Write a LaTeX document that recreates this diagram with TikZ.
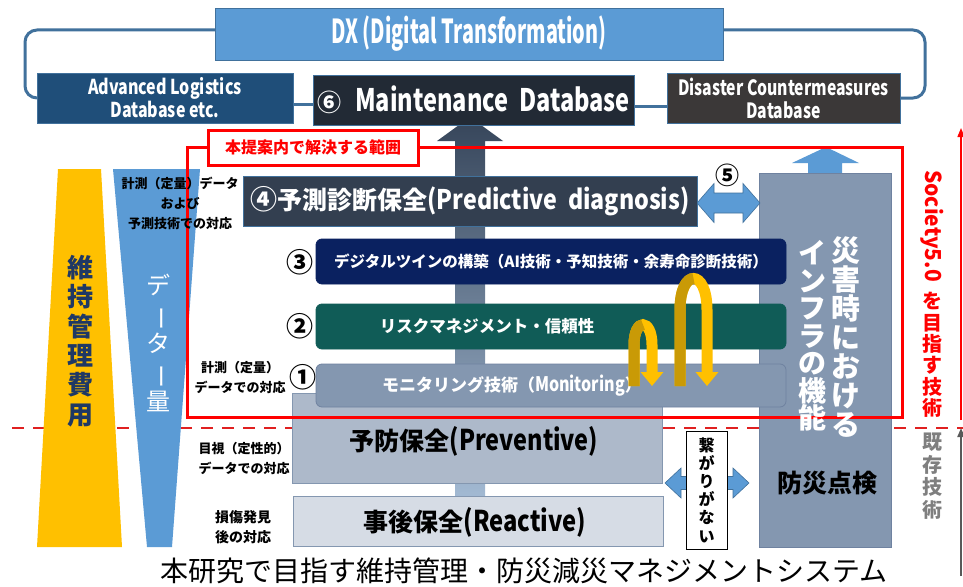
\documentclass[tikz,border=0pt]{standalone}
\usepackage{fontspec}
\usepackage{graphicx}
\setmainfont{Noto Sans CJK JP}
\usetikzlibrary{arrows.meta}
\definecolor{dxblue}{HTML}{5B9BD5}
\definecolor{edgeblue}{HTML}{41719C}
\definecolor{advblue}{HTML}{1F4E79}
\definecolor{mdark}{HTML}{222A35}
\definecolor{disgray}{HTML}{3B3838}
\definecolor{pdark}{HTML}{333F50}
\definecolor{navyb}{HTML}{0A2160}
\definecolor{tealb}{HTML}{105C57}
\definecolor{slate}{HTML}{8497B0}
\definecolor{slateedge}{HTML}{6F82A0}
\definecolor{prevc}{HTML}{ADB9CA}
\definecolor{reac}{HTML}{D6DCE5}
\definecolor{gold}{HTML}{FFC000}
\definecolor{golddark}{HTML}{C99A06}
\definecolor{textnavy}{HTML}{1F3864}
\definecolor{redc}{HTML}{FF0000}
\definecolor{dashc}{HTML}{E02020}
\definecolor{graytxt}{HTML}{7F7F7F}
\definecolor{grayarr}{HTML}{595959}
\definecolor{arrtop}{HTML}{36455A}
\definecolor{arrbot}{HTML}{B0C8E2}
\newcommand\fsz[2]{\fontsize{#1pt}{#2pt}\selectfont}
\newcommand\sx[2]{\scalebox{#1}[1]{#2}}
\newcommand\vbar{\rotatebox[origin=c]{-90}{ー}}
\begin{document}
\begin{tikzpicture}[x=1pt,y=-1pt,
  every node/.style={inner sep=0pt, outer sep=0pt},
  rbox/.style={draw=edgeblue, line width=0.8pt, anchor=north west, align=center},
  lbl/.style={font=\bfseries\fsz{13}{20}, align=center, text=black},
  loopln/.style={draw=edgeblue, line width=3pt},
  cnum/.style={font=\bfseries\fsz{27}{27}, text=black},
  yarc/.style={draw=gold, line width=11pt, -{Triangle[width=22pt,length=14pt]}},
  yarcd/.style={draw=golddark, line width=11pt},
  dblarrow/.style={fill=dxblue, draw=edgeblue, line width=0.6pt}
]
\useasboundingbox[fill=white] (0,0) rectangle (963,586);

% red dashed boundary
\coordinate (dashL) at (12,428);
\coordinate (dashR) at (963,428);
\draw[dashc, line width=2pt, dash pattern=on 12pt off 9pt] (dashL) -- (dashR);

% left trapezoids
\fill[gold] (58,169) -- (101,169) -- (122,547) -- (37,547) -- cycle;
\fill[dxblue] (113,169) -- (200,169) -- (172,547) -- (147,547) -- cycle;
\node[align=center, font=\bfseries\fsz{26}{29.4}, text=textnavy] (cost) at (80,341) {維\\持\\管\\理\\費\\用};
\node[align=center, font=\fsz{24}{29}, text=white] (dqty) at (158,343) {デ\\\vbar\\タ\\\vbar\\量};

% central gradient arrow
\shade[top color=arrtop, bottom color=arrbot]
  (455,546) -- (455,141) -- (437,141) -- (470,117) -- (503,141) -- (485,141) -- (485,546) -- cycle;

% DX and databases
\node[rbox, fill=dxblue, minimum width=508pt, minimum height=52pt, font=\bfseries\fsz{33}{33}, text=white] (dx) at (215,8)
  {\sx{0.6}{DX (Digital Transformation)}};
\node[rbox, fill=advblue, minimum width=256pt, minimum height=50pt, font=\bfseries\fsz{20.5}{23}, text=white] (adv) at (37,73)
  {\sx{0.78}{Advanced Logistics}\\\sx{0.78}{Database etc.}};
\node[rbox, fill=mdark, minimum width=321pt, minimum height=50pt, font=\bfseries\fsz{31}{31}, text=white] (md) at (313,75)
  {{\fsz{24}{24}⑥}\ \ \sx{0.76}{Maintenance\ \ Database}};
\node[rbox, fill=disgray, minimum width=233pt, minimum height=50pt, font=\bfseries\fsz{21}{23}, text=white] (dis) at (667,73)
  {\sx{0.75}{Disaster Countermeasures}\\\sx{0.75}{Database}};
\draw[loopln, rounded corners=12pt] ([yshift=4pt]dx.west) -| (25,98) -- (adv.west);
\draw[loopln, rounded corners=12pt] ([yshift=4pt]dx.east) -| (925,98) -- (dis.east);
\draw[loopln] ([yshift=-6pt]adv.east) -- ([yshift=-6pt]adv.east -| md.west);
\draw[loopln] ([yshift=-6pt]md.east) -- ([yshift=-6pt]md.east -| dis.west);

% right column with up arrow
\fill[dxblue] (808,174) -- (808,163) -- (792,163) -- (826,147) -- (859,163) -- (842,163) -- (842,174) -- cycle;
\node[draw=slateedge, line width=0.8pt, fill=slate, minimum width=132pt, minimum height=374pt, anchor=north west] (col) at (759,173) {};

% (5) double arrow
\path[dblarrow] (697,203) -- (714,183.5) -- (714,193) -- (743,193) -- (743,183.5) -- (760,203)
  -- (743,222.5) -- (743,213) -- (714,213) -- (714,222.5) -- cycle;
\node[fill=white, font=\bfseries\fsz{24}{24}] (n5) at (727,175) {⑤};

% (4) predictive
\node[rbox, fill=pdark, minimum width=454pt, minimum height=50pt, font=\bfseries\fsz{25}{25}, text=white] (p4) at (243,176)
  {{\fsz{27}{27}④}予測診断保全\sx{0.86}{\fsz{27}{27}(Predictive\ \ diagnosis)}};

% (3) (2) boxes
\node[rbox, draw=navyb, fill=navyb, rounded corners=6pt, minimum width=470pt, minimum height=45pt, font=\bfseries\fsz{15.5}{15.5}, text=white] (p3) at (316,239)
  {デジタルツインの構築（AI技術・予知技術・余寿命診断技術）};
\node[rbox, draw=tealb, fill=tealb, rounded corners=6pt, minimum width=470pt, minimum height=45pt] (p2) at (316,304) {};
\node[font=\bfseries\fsz{16.5}{16.5}, text=white] (t2) at (487,326) {リスクマネジメント・信頼性};

% preventive + (1)
\node[rbox, draw=slate, fill=prevc, minimum width=370pt, minimum height=90pt] (prev) at (292,393) {};
\node[font=\bfseries\fsz{25}{25}, text=black] (tprev) at (474,441) {予防保全\sx{0.82}{\fsz{28.6}{28.6}(Preventive)}};
\node[rbox, draw=slateedge, fill=slate, rounded corners=6pt, minimum width=470pt, minimum height=43pt] (p1) at (316,364) {};
\node[font=\bfseries\fsz{17}{17}, text=white] (t1) at (512,386) {モニタリング技術（\sx{0.8}{\fsz{20}{20}Monitoring}）};

% reactive
\node[rbox, draw=slate, fill=reac, minimum width=370pt, minimum height=50pt] (reac) at (293,496) {};
\node[font=\bfseries\fsz{25}{25}, text=black] (treac) at (475,522) {事後保全\sx{0.83}{\fsz{28.6}{28.6}(Reactive)}};

% no-connection box and arrow
\path[dblarrow] (665,483) -- (681,468) -- (681,476.5) -- (733,476.5) -- (733,468) -- (749,483)
  -- (733,498) -- (733,489.5) -- (681,489.5) -- (681,498) -- cycle;
\node[draw=black, line width=1pt, fill=white, minimum width=41pt, minimum height=118pt, anchor=north west,
  align=center, font=\bfseries\fsz{16}{18.2}] (nbox) at (686,431) {繋\\が\\り\\が\\な\\い};

% yellow curved arrows
\coordinate (sA) at (634,386);
\coordinate (sB) at (652,386);
\draw[yarc] (sA) -- (634,345) .. controls (634,318) and (652,318) .. (652,345) -- (sB);
\draw[yarcd] (sA) -- (634,345) .. controls (634,331.5) and (638.5,324.75) .. (643,324.75);
\coordinate (bA) at (680,386);
\coordinate (bB) at (707,386);
\draw[yarc] (bA) -- (680,310) .. controls (680,268) and (707,268) .. (707,310) -- (bB);
\draw[yarcd] (bA) -- (680,310) .. controls (680,289) and (686.75,278.5) .. (693.5,278.5);

% red scope frame
\draw[redc, line width=3pt] (187,147) rectangle (902,417);
\node[draw=redc, line width=3pt, fill=white, minimum width=210pt, minimum height=35pt, anchor=north west,
  text=redc, font=\bfseries\fsz{16}{16}] (rng) at (208,130) {本提案内で解決する範囲};

% column texts
\node[align=center, font=\bfseries\fsz{29}{29}, text=white] (colR) at (846,337) {災\\害\\時\\に\\お\\け\\る};
\node[align=center, font=\bfseries\fsz{28}{27.5}, text=white] (colL) at (812,336) {イ\\ン\\フ\\ラ\\の\\機\\能};
\node[font=\bfseries\fsz{25}{25}, text=black] (bosai) at (827,483) {防災点検};

% left labels
\node[lbl] (l4) at (180,203) {計測（定量）データ\\および\\予測技術での対応};
\node[lbl] (l1) at (240,377) {計測（定量）\\データでの対応};
\node[lbl] (lp) at (244,458) {目視（定性的）\\データでの対応};
\node[lbl, font=\bfseries\fsz{14}{20}] (lr) at (243,527) {損傷発見\\後の対応};

% circled numbers
\node[cnum] (n3) at (300,262) {③};
\node[cnum] (n2) at (300,326) {②};
\node[cnum] (n1) at (303,377) {①};

% right side
\node[rotate=-90, font=\bfseries\fsz{22}{22}, text=redc] (soc) at (932,226) {\sx{0.95}{Society5.0}};
\node[align=center, font=\bfseries\fsz{20}{21.4}, text=redc] (socj) at (932,355) {を\\目\\指\\す\\技\\術};
\node[align=center, font=\bfseries\fsz{20}{22.5}, text=graytxt] (exist) at (932,476) {既\\存\\技\\術};
\coordinate (rA) at (961,420);
\coordinate (rB) at (961,128);
\draw[redc, line width=1.5pt, -{Triangle[width=7pt,length=9pt]}] (rA) -- (rB);
\coordinate (gA) at (961,576);
\coordinate (gB) at (961,428);
\draw[grayarr, line width=2pt, -{Triangle[width=7pt,length=9pt]}] (gA) -- (gB);

% caption
\node[font=\fsz{28}{28}, text=black] (cap) at (524,571) {本研究で目指す維持管理・防災減災マネジメントシステム};
\end{tikzpicture}
\end{document}
